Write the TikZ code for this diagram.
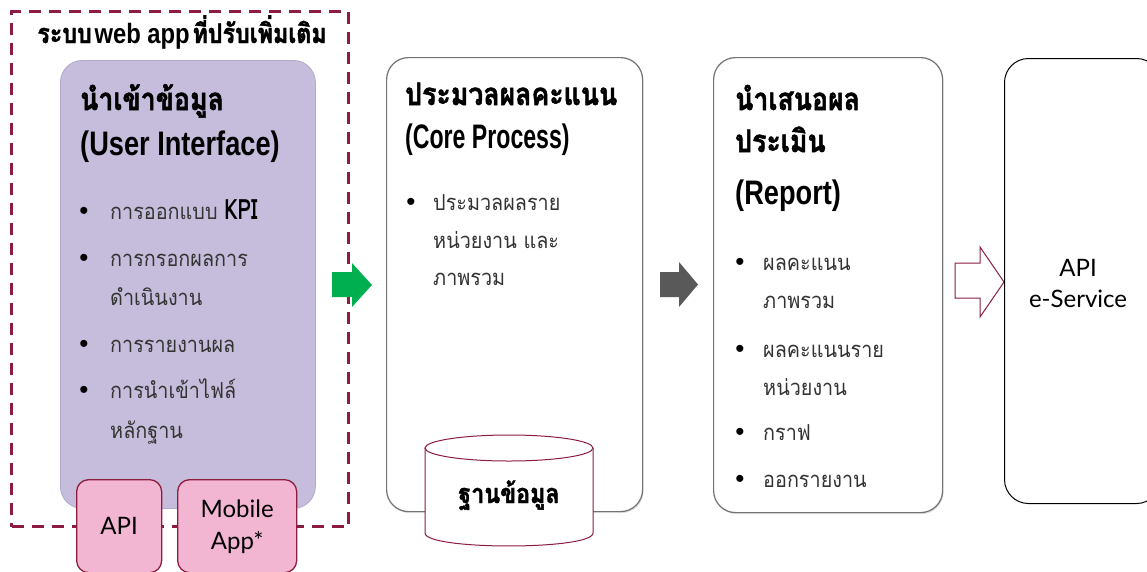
\documentclass[tikz,border=0pt]{standalone}
\usepackage{fontspec}
\usepackage{graphicx}
\setmainfont{Liberation Sans}
\newfontfamily\thai[Script=Thai,FakeStretch=0.9]{Loma}
\newfontfamily\thaiH[Script=Thai,FakeStretch=0.86,BoldFeatures={FakeBold=1.6}]{Loma}
\newfontfamily\gill{Lato}
\usetikzlibrary{shadows}
\definecolor{maroon}{HTML}{8C1D40}
\definecolor{lav}{HTML}{C6BDDC}
\definecolor{lavline}{HTML}{B2A8CC}
\definecolor{pinkb}{HTML}{F2B5D2}
\definecolor{grn}{HTML}{00B050}
\definecolor{dgray}{HTML}{595959}
\definecolor{btxt}{HTML}{333333}
\newcommand\thH{\thaiH\bfseries\fontsize{31}{36}\selectfont}
\newcommand\laH[2]{\scalebox{#1}[1]{\bfseries\fontsize{34}{40}\selectfont #2}}
\newcommand\bodyF{\thai\fontsize{22}{26}\selectfont}
\tikzset{
  hd/.style={anchor=base west, inner sep=0pt, text=black},
  itm/.style={anchor=base west, inner sep=0pt, text=btxt, font=\bodyF},
  bul/.style={anchor=base, inner sep=0pt, text=black, font=\fontsize{26}{30}\selectfont},
  graybox/.style={draw=black!55, line width=1.2pt, fill=white, rounded corners=22pt,
    anchor=north west, inner sep=0pt,
    drop shadow={shadow xshift=1pt, shadow yshift=-1.5pt, opacity=0.25}},
  pinkbox/.style={draw=maroon, line width=1.3pt, fill=pinkb, rounded corners=12pt,
    anchor=north west, inner sep=0pt},
  gl/.style={inner sep=0pt, font=\gill\fontsize{24}{29}\selectfont, text=black}
}
\begin{document}
\begin{tikzpicture}[x=1pt,y=-1pt]
\useasboundingbox (0,0) rectangle (1147,571);
\clip (0,0) rectangle (1147,571);
\fill[white] (0,0) rectangle (1147,571);

% dashed frame
\node[draw=maroon, line width=3pt, dash pattern=on 12pt off 8pt, anchor=north west,
  inner sep=0pt, minimum width=337pt, minimum height=515pt] (frame) at (10,10) {};
\node[anchor=base, inner sep=0pt] (title) at (182,43)
  {{\thaiH\bfseries\fontsize{27}{30}\selectfont ระบบ} \scalebox{0.85}[1]{\bfseries\fontsize{28}{30}\selectfont web app} {\thaiH\bfseries\fontsize{27}{30}\selectfont ที่ปรับเพิ่มเติม}};

% input box
\node[draw=lavline, line width=0.8pt, fill=lav, rounded corners=22pt, anchor=north west,
  inner sep=0pt, minimum width=255pt, minimum height=448pt] (ui) at (60,60) {};
\node[hd] (uih1) at (80,110) {\thH นำเข้าข้อมูล};
\node[hd] (uih2) at (80,155) {\laH{0.8}{(User Interface)}};
\node[bul] (ub1) at (84,219) {•};
\node[itm] (ut1) at (110,219) {การออกแบบ \scalebox{0.8}[1]{\bfseries\fontsize{28}{30}\selectfont\color{black}KPI}};
\node[bul] (ub2) at (84,266) {•};
\node[itm] (ut2) at (110,266) {การกรอกผลการ};
\node[itm] (ut2b) at (110,305) {ดำเนินงาน};
\node[bul] (ub3) at (84,352) {•};
\node[itm] (ut3) at (110,352) {การรายงานผล};
\node[bul] (ub4) at (84,398) {•};
\node[itm] (ut4) at (110,398) {การนำเข้าไฟล์};
\node[itm] (ut4b) at (110,438) {หลักฐาน};

% API / Mobile App
\node[pinkbox, minimum width=85pt, minimum height=93pt] (api) at (76,479) {};
\node[gl, anchor=base] (apil) at (api.center |- 0,534) {API};
\node[pinkbox, minimum width=119pt, minimum height=93pt] (mob) at (177,479) {};
\node[gl, anchor=base] (mobl1) at (mob.center |- 0,517) {Mobile};
\node[gl, anchor=base] (mobl2) at (mob.center |- 0,549) {App*};

% green arrow
\fill[grn] (332,272) -- (352,272) -- (352,263) -- (372,285) -- (352,307) -- (352,297) -- (332,297) -- cycle;

% core process
\node[graybox, minimum width=256pt, minimum height=454pt] (core) at (386,57) {};
\node[hd] (coh1) at (405,105) {\thH ประมวลผลคะแนน};
\node[hd] (coh2) at (405,148) {\laH{0.68}{(Core Process)}};
\node[bul] (cb1) at (411,210) {•};
\node[itm] (ct1) at (433,210) {ประมวลผลราย};
\node[itm] (ct1b) at (433,248) {หน่วยงาน และ};
\node[itm] (ct1c) at (433,285) {ภาพรวม};

% database cylinder
\fill[white] (425,448) rectangle (593,533);
\filldraw[fill=white, draw=maroon, line width=1pt]
  (425,448) -- (425,533) .. controls (425,550.3) and (593,550.3) .. (593,533) -- (593,448);
\draw[maroon, line width=1pt, fill=white] (509,448) ellipse [x radius=84, y radius=13];
\node[anchor=base, inner sep=0pt] (db) at (509,503) {\thaiH\bfseries\fontsize{27}{30}\selectfont ฐานข้อมูล};

% gray arrow
\fill[dgray] (660,272) -- (679,272) -- (679,262) -- (698,284.5) -- (679,307) -- (679,297) -- (660,297) -- cycle;

% report
\node[graybox, minimum width=229pt, minimum height=455pt] (rep) at (713,57) {};
\node[hd] (rh1) at (735,110) {\thH นำเสนอผล};
\node[hd] (rh2) at (735,152) {\thH ประเมิน};
\node[hd] (rh3) at (735,204) {\laH{0.8}{(Report)}};
\node[bul] (rb1) at (740,270) {•};
\node[itm] (rt1) at (763,270) {ผลคะแนน};
\node[itm] (rt1b) at (763,308) {ภาพรวม};
\node[bul] (rb2) at (740,357) {•};
\node[itm] (rt2) at (763,357) {ผลคะแนนราย};
\node[itm] (rt2b) at (763,395) {หน่วยงาน};
\node[bul] (rb3) at (740,440) {•};
\node[itm] (rt3) at (763,440) {กราฟ};
\node[bul] (rb4) at (740,487) {•};
\node[itm] (rt4) at (763,487) {ออกรายงาน};

% outline arrow
\filldraw[fill=white, draw=maroon, line width=1pt]
  (955,263) -- (980,263) -- (980,247) -- (1004,282) -- (980,317) -- (980,298) -- (955,298) -- cycle;

% external API box
\node[draw=black, line width=1pt, fill=white, rounded corners=24pt, anchor=north west,
  inner sep=0pt, minimum width=156pt, minimum height=445pt] (ext) at (1004,58) {};
\node[gl, anchor=base] (extl1) at (1078,276) {API};
\node[gl, anchor=base] (extl2) at (1078,307) {e-Service};
\end{tikzpicture}
\end{document}
